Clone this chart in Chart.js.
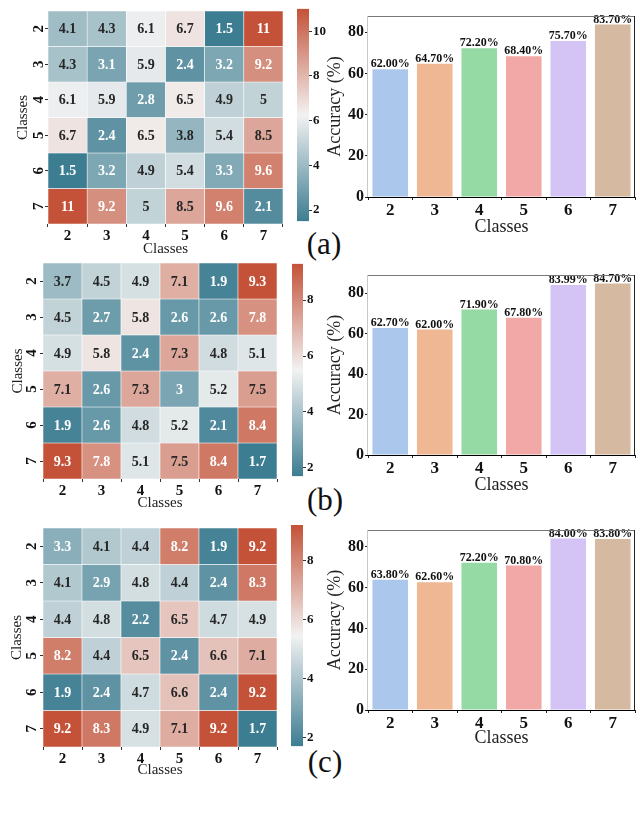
<!DOCTYPE html>
<html><head><meta charset="utf-8">
<script src="https://cdn.jsdelivr.net/npm/chart.js@4.4.0/dist/chart.umd.min.js"></script>
<style>
html,body{margin:0;padding:0;background:#fff;}
body{width:640px;height:813px;position:relative;overflow:hidden;}
canvas{position:absolute;}
.lab{position:absolute;font-family:'Liberation Serif','Times New Roman',serif;font-size:31px;line-height:1;transform:translate(-50%,-50%);white-space:nowrap;color:#111;}
</style></head><body>
<div class="lab" style="left:324px;top:243px">(a)</div>
<div class="lab" style="left:325px;top:499px">(b)</div>
<div class="lab" style="left:325px;top:761px">(c)</div>
<script>
// ---------------- DATA ----------------
const classes = ['2','3','4','5','6','7'];

const matrixA = [
  [4.1, 4.3, 6.1, 6.7, 1.5, 11],
  [4.3, 3.1, 5.9, 2.4, 3.2, 9.2],
  [6.1, 5.9, 2.8, 6.5, 4.9, 5],
  [6.7, 2.4, 6.5, 3.8, 5.4, 8.5],
  [1.5, 3.2, 4.9, 5.4, 3.3, 9.6],
  [11, 9.2, 5, 8.5, 9.6, 2.1]
];
const matrixB = [
  [3.7, 4.5, 4.9, 7.1, 1.9, 9.3],
  [4.5, 2.7, 5.8, 2.6, 2.6, 7.8],
  [4.9, 5.8, 2.4, 7.3, 4.8, 5.1],
  [7.1, 2.6, 7.3, 3, 5.2, 7.5],
  [1.9, 2.6, 4.8, 5.2, 2.1, 8.4],
  [9.3, 7.8, 5.1, 7.5, 8.4, 1.7]
];
const matrixC = [
  [3.3, 4.1, 4.4, 8.2, 1.9, 9.2],
  [4.1, 2.9, 4.8, 4.4, 2.4, 8.3],
  [4.4, 4.8, 2.2, 6.5, 4.7, 4.9],
  [8.2, 4.4, 6.5, 2.4, 6.6, 7.1],
  [1.9, 2.4, 4.7, 6.6, 2.4, 9.2],
  [9.2, 8.3, 4.9, 7.1, 9.2, 1.7]
];

const accuracyA = [62.00, 64.70, 72.20, 68.40, 75.70, 83.70];
const accuracyB = [62.70, 62.00, 71.90, 67.80, 83.99, 84.70];
const accuracyC = [63.80, 62.60, 72.20, 70.80, 84.00, 83.80];

const accTicks = [0, 20, 40, 60, 80];
const cbarTicksA = [2, 4, 6, 8, 10];
const cbarTicksB = [2, 4, 6, 8];
const cbarTicksC = [2, 4, 6, 8];

// ---------------- STYLE ----------------
const SERIF = "'Liberation Serif','Times New Roman',serif";
const barColors = ['#abc8ec', '#f0b794', '#95d9a5', '#f2a8a7', '#d4c3f5', '#d5b9a0'];
const CMAP = [[61,125,145],[242,242,242],[196,82,56]];

function cmap(t){
  t = Math.max(0, Math.min(1, t));
  const s = t < 0.5 ? 0 : 1;
  const f = t < 0.5 ? t / 0.5 : (t - 0.5) / 0.5;
  const a = CMAP[s], b = CMAP[s + 1];
  return [0,1,2].map(i => Math.round(a[i] + (b[i] - a[i]) * f));
}
const rgbStr = c => `rgb(${c[0]},${c[1]},${c[2]})`;
function lum(c){
  const l = c.map(v => { v /= 255; return v <= 0.03928 ? v / 12.92 : Math.pow((v + 0.055) / 1.055, 2.4); });
  return 0.2126 * l[0] + 0.7152 * l[1] + 0.0722 * l[2];
}

function addCanvas(left, top, w, h){
  const c = document.createElement('canvas');
  c.width = w; c.height = h;
  c.style.left = left + 'px'; c.style.top = top + 'px';
  c.style.width = w + 'px'; c.style.height = h + 'px';
  document.body.appendChild(c);
  return c;
}

const cellTextPlugin = {
  id: 'cellText',
  afterDatasetsDraw(chart){
    const ctx = chart.ctx;
    ctx.save();
    ctx.font = `bold 14px ${SERIF}`;
    ctx.textAlign = 'center';
    ctx.textBaseline = 'middle';
    chart.data.datasets.forEach((ds, di) => {
      const meta = chart.getDatasetMeta(di);
      meta.data.forEach((el, i) => {
        const p = el.getProps(['x', 'y', 'base'], true);
        const v = ds.values[i];
        ctx.fillStyle = ds.textColors[i];
        ctx.fillText(String(v), p.x, (p.y + p.base) / 2 + 1);
      });
    });
    ctx.restore();
  }
};

const barLabelPlugin = {
  id: 'barLabel',
  afterDatasetsDraw(chart){
    const ctx = chart.ctx;
    ctx.save();
    ctx.font = `bold 12px ${SERIF}`;
    ctx.textAlign = 'center';
    ctx.textBaseline = 'bottom';
    ctx.fillStyle = '#111';
    const ds = chart.data.datasets[0];
    chart.getDatasetMeta(0).data.forEach((el, i) => {
      const p = el.getProps(['x', 'y'], true);
      ctx.fillText(ds.data[i].toFixed(2) + '%', p.x, p.y + 1);
    });
    ctx.restore();
  }
};

const framePlugin = {
  id: 'frame',
  afterDatasetsDraw(chart){
    const {ctx, chartArea: a} = chart;
    ctx.save();
    ctx.lineWidth = 1;
    const line = (x1, y1, x2, y2, col) => { ctx.strokeStyle = col; ctx.beginPath(); ctx.moveTo(x1, y1); ctx.lineTo(x2, y2); ctx.stroke(); };
    line(a.left - 0.5, a.top + 0.5, a.right, a.top + 0.5, '#777');
    line(a.right - 0.5, a.top, a.right - 0.5, a.bottom, '#222');
    line(a.left - 0.5, a.top, a.left - 0.5, a.bottom, '#c8c8c8');
    line(a.left - 1, a.bottom + 0.5, a.right, a.bottom + 0.5, '#000');
    ctx.restore();
  }
};

function heatmap(matrix, g){
  const vals = matrix.flat();
  const vmin = Math.min(...vals), vmax = Math.max(...vals);
  const canvas = addCanvas(g.left, g.top, g.w, g.h);
  const datasets = matrix.map((row, r) => {
    const cols = row.map(v => cmap((v - vmin) / (vmax - vmin)));
    return {
      data: row.map(() => [r, r + 1]),
      values: row,
      backgroundColor: cols.map(rgbStr),
      textColors: cols.map(c => lum(c) > 0.408 ? '#262626' : '#ffffff'),
      borderColor: '#ffffff', borderWidth: 0.6, borderSkipped: false,
      grouped: false, categoryPercentage: 1, barPercentage: 1
    };
  });
  new Chart(canvas, {
    type: 'bar',
    data: { labels: classes, datasets },
    options: {
      responsive: false, animation: false,
      layout: { padding: { top: g.padTop, right: g.padRight, left: 0, bottom: 0 } },
      plugins: { legend: { display: false }, tooltip: { enabled: false } },
      scales: {
        x: {
          grid: { drawOnChartArea: false, tickLength: 3, color: '#333' },
          border: { display: false },
          ticks: { font: { family: SERIF, size: 15, weight: 'bold' }, color: '#111', padding: 0 },
          title: { display: true, text: 'Classes', font: { family: SERIF, size: 15 }, color: '#222', padding: 0 },
          afterFit: s => { s.height = g.xH; }
        },
        y: {
          type: 'linear', min: 0, max: 6, reverse: true,
          afterBuildTicks: ax => { ax.ticks = classes.map((_, i) => ({ value: i + 0.5 })); },
          grid: { drawOnChartArea: false, tickLength: 3, color: '#333' },
          border: { display: false },
          ticks: {
            callback: v => classes[Math.floor(v)],
            minRotation: 90, maxRotation: 90, crossAlign: 'center',
            padding: g.yTickPad, font: { family: SERIF, size: 15, weight: 'bold' }, color: '#111'
          },
          title: { display: true, text: 'Classes', font: { family: SERIF, size: 15 }, color: '#222', padding: { top: g.yTitlePad, bottom: 0 } },
          afterFit: s => { s.width = g.yW; }
        }
      }
    },
    plugins: [cellTextPlugin]
  });
  return { vmin, vmax };
}

function colorbar(range, ticks, g){
  const canvas = addCanvas(g.left, g.top, g.w, g.h);
  new Chart(canvas, {
    type: 'bar',
    data: { labels: [''], datasets: [{
      data: [[range.vmin, range.vmax]],
      backgroundColor: (ctx) => {
        const chart = ctx.chart;
        if (!chart.chartArea) return '#ccc';
        const y = chart.scales.y;
        const gr = chart.ctx.createLinearGradient(0, y.getPixelForValue(range.vmin), 0, y.getPixelForValue(range.vmax));
        gr.addColorStop(0, rgbStr(CMAP[0]));
        gr.addColorStop(0.5, rgbStr(CMAP[1]));
        gr.addColorStop(1, rgbStr(CMAP[2]));
        return gr;
      },
      borderWidth: 0, categoryPercentage: 1, barPercentage: 1
    }]},
    options: {
      responsive: false, animation: false,
      layout: { padding: { top: g.padTop, left: g.padLeft, bottom: g.padBottom, right: 0 } },
      plugins: { legend: { display: false }, tooltip: { enabled: false } },
      scales: {
        x: { display: false },
        y: {
          position: 'right', min: range.vmin, max: range.vmax,
          afterBuildTicks: ax => { ax.ticks = ticks.map(v => ({ value: v })); },
          grid: { drawOnChartArea: false, tickLength: 3, color: '#333' },
          border: { display: false },
          ticks: { font: { family: SERIF, size: 13, weight: 'bold' }, color: '#111', padding: 1 },
          afterFit: s => { s.width = g.yW; }
        }
      }
    }
  });
}

function accuracyBars(values, g){
  const canvas = addCanvas(g.left, g.top, g.w, g.h);
  const ymax = Math.max(...values) * 1.05;
  new Chart(canvas, {
    type: 'bar',
    data: { labels: classes, datasets: [{
      data: values, backgroundColor: barColors, borderWidth: 0,
      categoryPercentage: 0.8, barPercentage: 1
    }]},
    options: {
      responsive: false, animation: false,
      layout: { padding: { top: g.padTop, right: g.padRight, left: 0, bottom: 0 } },
      plugins: { legend: { display: false }, tooltip: { enabled: false } },
      scales: {
        x: {
          grid: { drawOnChartArea: false, tickLength: 3, color: '#222' },
          border: { display: false },
          ticks: { font: { family: SERIF, size: 17, weight: 'bold' }, color: '#111', padding: 0 },
          title: { display: true, text: 'Classes', font: { family: SERIF, size: 18 }, color: '#222', padding: { top: 0, bottom: 2 } },
          afterFit: s => { s.height = g.xH; }
        },
        y: {
          min: 0, max: ymax,
          afterBuildTicks: ax => { ax.ticks = accTicks.map(v => ({ value: v })); },
          grid: { drawOnChartArea: false, tickLength: 3, color: '#222' },
          border: { display: false },
          ticks: { font: { family: SERIF, size: 16, weight: 'bold' }, color: '#111', padding: 1 },
          title: { display: true, text: 'Accuracy (%)', font: { family: SERIF, size: 18 }, color: '#222', padding: { top: 4, bottom: 0 } },
          afterFit: s => { s.width = g.yW; }
        }
      }
    },
    plugins: [barLabelPlugin, framePlugin]
  });
}

// ---------------- LAYOUT ----------------
const rA = heatmap(matrixA, { left: 0, top: 0, w: 290, h: 258, padTop: 3, padRight: 7, xH: 34, yW: 48, yTickPad: 2, yTitlePad: 14 });
const rB = heatmap(matrixB, { left: 0, top: 250, w: 285, h: 262, padTop: 13, padRight: 8, xH: 33, yW: 43, yTickPad: 4, yTitlePad: 9 });
const rC = heatmap(matrixC, { left: 0, top: 515, w: 285, h: 264, padTop: 10, padRight: 8, xH: 32, yW: 43, yTickPad: 4, yTitlePad: 8 });

colorbar(rA, cbarTicksA, { left: 290, top: 0, w: 40, h: 230, padLeft: 7, padTop: 3, padBottom: 6, yW: 21 });
colorbar(rB, cbarTicksB, { left: 285, top: 255, w: 40, h: 230, padLeft: 7, padTop: 8, padBottom: 6, yW: 22 });
colorbar(rC, cbarTicksC, { left: 285, top: 515, w: 40, h: 240, padLeft: 6, padTop: 10, padBottom: 8, yW: 22 });

accuracyBars(accuracyA, { left: 320, top: 0, w: 320, h: 240, padTop: 16, padRight: 5, xH: 43, yW: 48 });
accuracyBars(accuracyB, { left: 320, top: 250, w: 320, h: 248, padTop: 25, padRight: 5, xH: 43, yW: 48 });
accuracyBars(accuracyC, { left: 320, top: 510, w: 320, h: 241, padTop: 20, padRight: 5, xH: 41, yW: 48 });
</script>
</body></html>
